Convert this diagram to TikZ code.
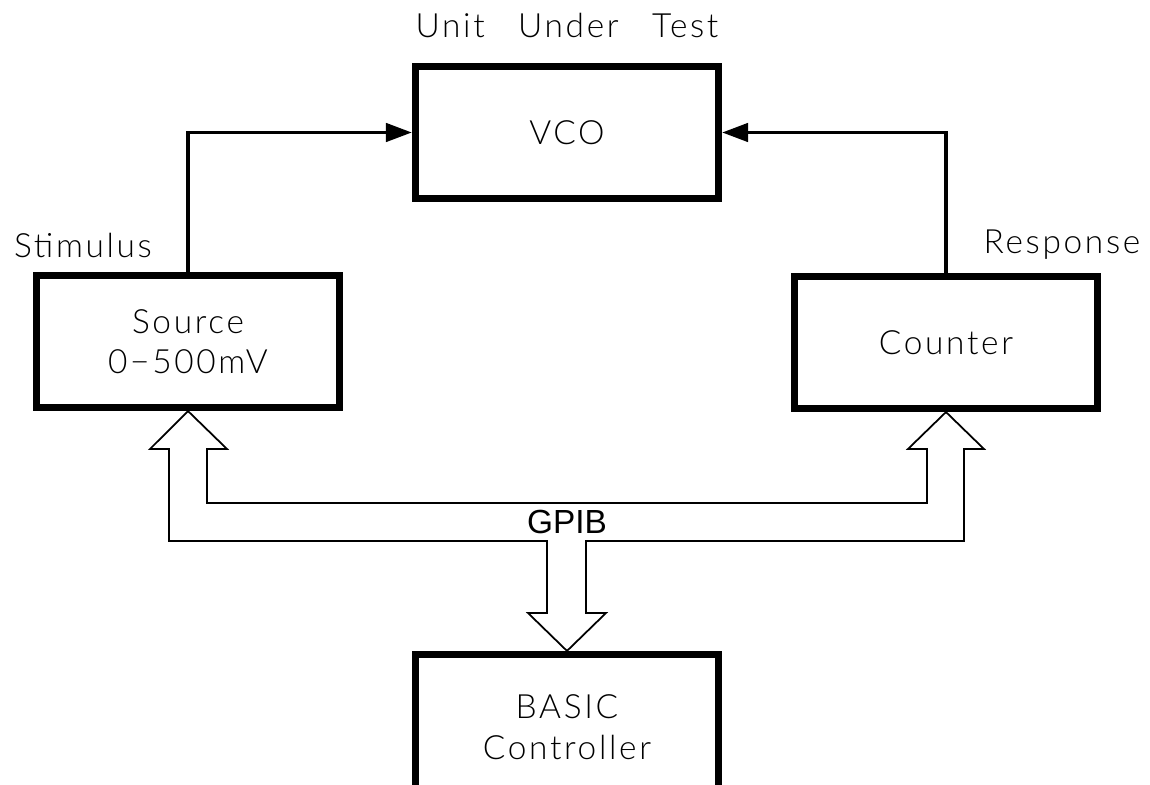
\documentclass[tikz,border=0pt]{standalone}
\usepackage{fontspec}
\setmainfont{Liberation Sans}
\newfontfamily\lblfont{Lato}[UprightFont={* Light}, LetterSpace=8]
\usetikzlibrary{arrows.meta}

\begin{document}
\begin{tikzpicture}[x=0.01cm, y=-0.01cm,
  box/.style={draw, line width=2pt, minimum width=3.03cm, minimum height=1.32cm,
              align=center, font=\lblfont\fontsize{9.5}{11.5}\selectfont},
  lbl/.style={font=\lblfont\fontsize{9.5}{11}\selectfont},
  sig/.style={line width=1.1pt, -{Triangle[length=7.4pt, width=5.2pt]}},
  bus/.style={line width=0.5pt}]
\useasboundingbox (0,0) rectangle (1150,785);
\node[box] (vco) at (567,132.5) {VCO};
\node[box] (src) at (188,341.5) {Source\\0−500mV};
\node[box] (cnt) at (946,342.5) {Counter};
\node[box, minimum height=1.45cm] (ctl) at (567,727) {BASIC\\Controller};
\node[lbl] (uut) at (567,25) {Unit\quad Under\quad Test};
\node[lbl] (stim) at (83,245) {Stimulus};
\node[lbl] (resp) at (1062,245) {Response};
\node[font=\fontsize{9.5}{11}\selectfont] (gpib) at (567,522) {GPIB};
\draw[sig] (src.north) |- (vco.west);
\draw[sig] (cnt.north) |- (vco.east);
% GPIB bus
\draw[bus] (src.south) -- (227,449) -- (207,449) -- (207,503) -- (927,503) -- (927,449)
  -- (908,449) -- (cnt.south) -- (984,449) -- (964,449) -- (964,541) -- (586,541)
  -- (586,613) -- (606,613) -- (ctl.north) -- (528,613) -- (547,613) -- (547,541)
  -- (169,541) -- (169,449) -- (150,449) -- cycle;
\end{tikzpicture}
\end{document}
